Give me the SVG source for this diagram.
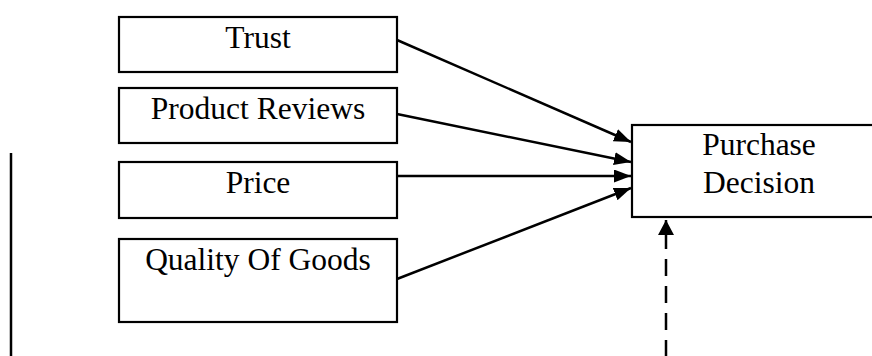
<svg xmlns="http://www.w3.org/2000/svg" width="872" height="356" viewBox="0 0 872 356">
<style>
.box{fill:#fff;stroke:#000;stroke-width:2.2}
.lbl{font-family:"Liberation Serif","Times New Roman",serif;font-size:31.5px;fill:#000;text-anchor:middle}
.edge{stroke:#000;stroke-width:2.5;fill:none}
</style>
<defs>
<marker id="ah" markerUnits="userSpaceOnUse" markerWidth="18" markerHeight="14" refX="17" refY="6.5" orient="auto">
<path d="M0,0 L17,6.5 L0,13 z" fill="#000"/>
</marker>
<marker id="ah2" markerUnits="userSpaceOnUse" markerWidth="16" markerHeight="16" refX="15" refY="8" orient="auto">
<path d="M0,0 L15,8 L0,16 z" fill="#000"/>
</marker>
</defs>
<rect width="872" height="356" fill="#fff"/>
<g id="trust"><rect class="box" x="119" y="17" width="278" height="55"/><text class="lbl" x="258" y="48">Trust</text></g>
<g id="reviews"><rect class="box" x="119" y="88" width="278" height="55"/><text class="lbl" x="258" y="119">Product Reviews</text></g>
<g id="price"><rect class="box" x="119" y="162" width="278" height="56"/><text class="lbl" x="258" y="193">Price</text></g>
<g id="quality"><rect class="box" x="119" y="239" width="278" height="83"/><text class="lbl" x="258" y="270">Quality Of Goods</text></g>
<g id="decision"><rect class="box" x="632" y="125" width="260" height="92"/><text class="lbl" x="759" y="155">Purchase</text><text class="lbl" x="759" y="193">Decision</text></g>
<g id="connectors">
<line class="edge" x1="397" y1="40" x2="631" y2="142" marker-end="url(#ah)"/>
<line class="edge" x1="397" y1="114" x2="631" y2="162" marker-end="url(#ah)"/>
<line class="edge" x1="397" y1="176" x2="631" y2="176" marker-end="url(#ah)"/>
<line class="edge" x1="397" y1="279" x2="631" y2="188" marker-end="url(#ah)"/>
<line class="edge" x1="666" y1="249" x2="666" y2="220" marker-end="url(#ah2)"/>
<line class="edge" x1="666" y1="357" x2="666" y2="249" stroke-dasharray="17 10"/>
</g>
<line x1="11" y1="153" x2="11" y2="356" stroke="#000" stroke-width="2.5"/>
</svg>
